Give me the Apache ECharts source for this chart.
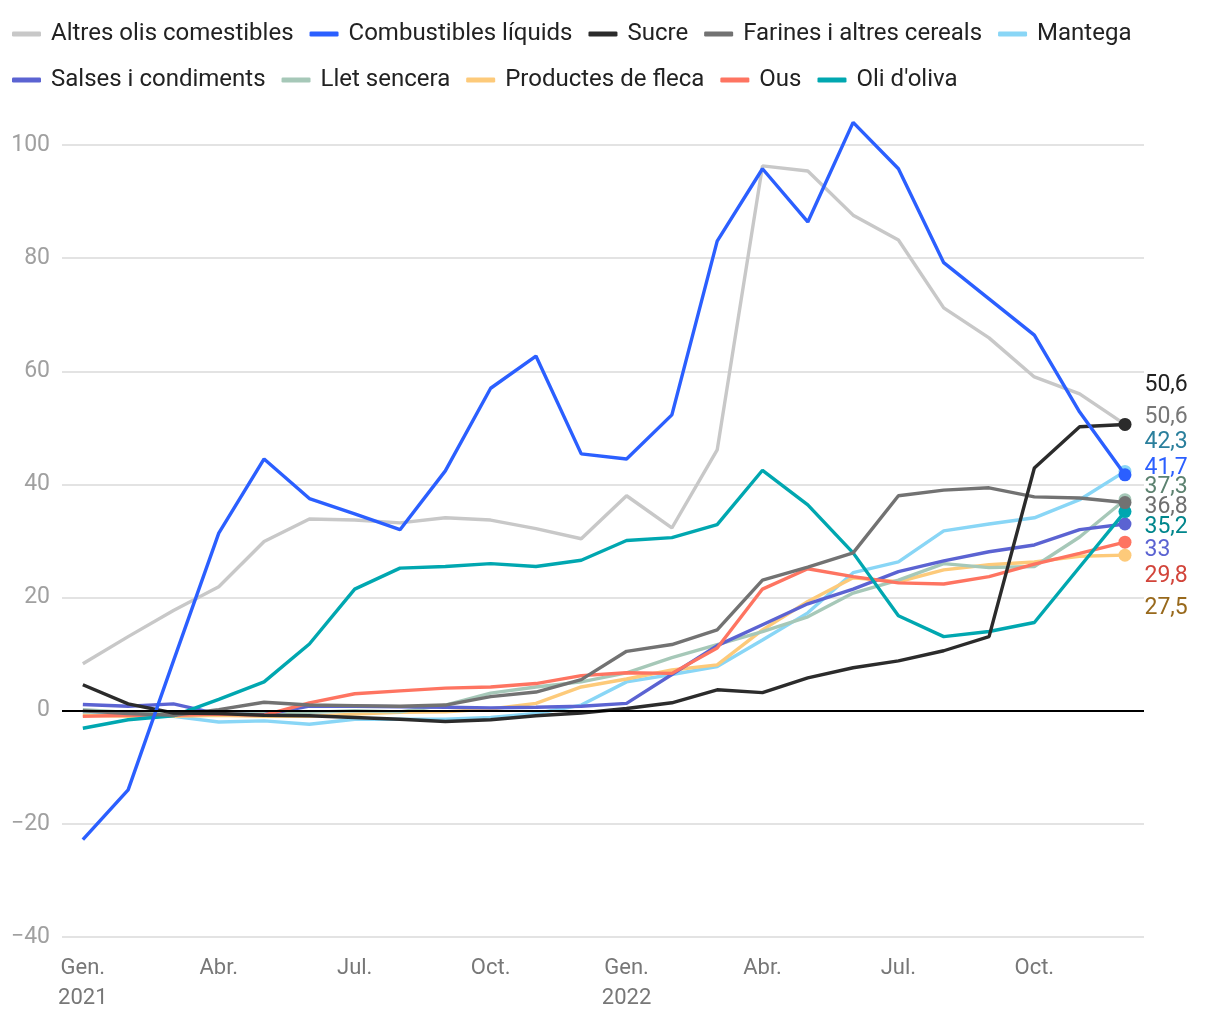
<!DOCTYPE html>
<html>
<head>
<meta charset="utf-8">
<script src="https://cdn.jsdelivr.net/npm/echarts@6/dist/echarts.min.js"></script>
<style>
  html, body { margin: 0; padding: 0; background: #fff; }
  #chart { width: 1220px; height: 1020px; }
</style>
</head>
<body>
<div id="chart"></div>
<script>
// mesos gen. 2021 - des. 2022
const months = ['Gen.\n2021', 'Febr.', 'Març', 'Abr.', 'Maig', 'Juny', 'Jul.', 'Ag.', 'Set.', 'Oct.', 'Nov.', 'Des.',
  'Gen.\n2022', 'Febr.', 'Març', 'Abr.', 'Maig', 'Juny', 'Jul.', 'Ag.', 'Set.', 'Oct.', 'Nov.', 'Des.'];
const tickMonths = [0, 3, 6, 9, 12, 15, 18, 21];
const yTicks = [-40, -20, 0, 20, 40, 60, 80, 100];

const altresOlis = [8.3, 13.1, 17.7, 21.9, 29.9, 33.9, 33.7, 33.2, 34.1, 33.7, 32.2, 30.4, 38.0, 32.3, 46.1, 96.3, 95.4, 87.6, 83.2, 71.2, 65.9, 59.0, 56.0, 50.6];
const combustibles = [-22.8, -14.0, 8.8, 31.4, 44.5, 37.5, 34.8, 32.0, 42.4, 57.0, 62.7, 45.4, 44.5, 52.3, 83.0, 95.8, 86.4, 104.0, 95.8, 79.2, 72.8, 66.4, 52.8, 41.7];
const sucre = [4.6, 1.2, -0.4, -0.5, -0.8, -0.9, -1.2, -1.5, -1.9, -1.6, -0.9, -0.4, 0.4, 1.4, 3.7, 3.2, 5.8, 7.6, 8.8, 10.6, 13.1, 42.9, 50.2, 50.6];
const farines = [0.0, -0.5, -0.8, 0.2, 1.5, 1.0, 0.9, 0.8, 1.0, 2.5, 3.3, 5.5, 10.5, 11.7, 14.3, 23.1, 25.4, 27.9, 38.0, 39.0, 39.4, 37.8, 37.6, 36.8];
const mantega = [-0.3, -0.7, -1.0, -2.0, -1.8, -2.4, -1.5, -1.5, -1.5, -1.2, -0.5, 1.0, 5.1, 6.4, 7.8, 12.5, 17.3, 24.4, 26.3, 31.8, 33.0, 34.1, 37.3, 42.3];
const salses = [1.1, 0.8, 1.2, -0.6, -0.7, 0.8, 0.8, 0.7, 0.6, 0.5, 0.6, 0.8, 1.3, 6.4, 11.5, 15.2, 18.9, 21.5, 24.6, 26.5, 28.1, 29.3, 32.0, 33.0];
const llet = [0.2, -0.3, -0.5, -0.5, -0.3, -0.3, 0.0, -0.2, 1.0, 3.1, 4.2, 5.1, 6.7, 9.4, 11.7, 14.0, 16.6, 20.8, 23.1, 26.0, 25.3, 25.5, 30.7, 37.3];
const fleca = [-0.8, -1.0, -1.0, -0.8, -1.0, -1.0, -0.6, -0.3, -0.2, 0.3, 1.3, 4.2, 5.6, 7.2, 8.1, 14.3, 19.3, 23.5, 22.8, 24.9, 25.8, 26.3, 27.3, 27.5];
const ous = [-1.0, -0.8, -0.8, -0.6, -0.8, 1.4, 3.0, 3.5, 4.0, 4.2, 4.8, 6.2, 6.7, 6.6, 11.1, 21.5, 25.1, 23.7, 22.6, 22.4, 23.7, 25.9, 27.8, 29.8];
const oliOliva = [-3.1, -1.6, -0.9, 2.0, 5.1, 11.8, 21.5, 25.2, 25.5, 26.0, 25.5, 26.6, 30.1, 30.6, 32.9, 42.5, 36.4, 27.9, 16.8, 13.1, 14.0, 15.6, 25.4, 35.2];

const seriesNames = ['Altres olis comestibles', 'Combustibles líquids', 'Sucre', 'Farines i altres cereals', 'Mantega',
  'Salses i condiments', 'Llet sencera', 'Productes de fleca', 'Ous', "Oli d'oliva"];
const seriesValues = [altresOlis, combustibles, sucre, farines, mantega, salses, llet, fleca, ous, oliOliva];

// estil: color de línia, color d'etiqueta final, desplaçament vertical de l'etiqueta
const lineColors = ['#c8c8c8', '#2b5fff', '#2b2b2b', '#727272', '#89d6f6', '#5b63d2', '#a6c8b8', '#fdca7a', '#fe7461', '#00a7b0'];
const labelColors = ['#777777', '#2b5fff', '#222222', '#6f6f6f', '#2a7f9c', '#5b63d2', '#5c8270', '#98691c', '#d2443a', '#00868c'];
const labelShift = [-7, -7, -39, 5, -29, 26, -12, 53, 34, 16];
const zOrder = [2, 12, 11, 10, 3, 6, 5, 4, 7, 8];

const chart = echarts.init(document.getElementById('chart'));
const FONT = 'Roboto, "Noto Sans", sans-serif';
const last = months.length - 1;

const series = seriesNames.map((name, s) => ({
  name: name,
  type: 'line',
  z: zOrder[s],
  clip: false,
  silent: true,
  showSymbol: true,
  showAllSymbol: true,
  symbol: 'circle',
  symbolSize: (val, p) => (p.dataIndex === last ? 13 : 0),
  lineStyle: { width: 3.4, color: lineColors[s] },
  itemStyle: { color: lineColors[s] },
  data: seriesValues[s].map((v, i) => {
    if (i !== last) return [i, v];
    return {
      value: [i, v],
      label: {
        show: true,
        position: 'right',
        distance: 13,
        offset: [0, labelShift[s]],
        color: labelColors[s],
        fontSize: 23,
        fontFamily: FONT,
        formatter: p => String(p.value[1]).replace('.', ',')
      }
    };
  }),
  markLine: s === 0 ? {
    silent: true,
    symbol: 'none',
    label: { show: false },
    lineStyle: { color: '#000', width: 2, type: 'solid' },
    data: [{ yAxis: 0 }]
  } : undefined
}));
series[0].markLine.z = 20;

const legendBase = {
  left: 12,
  padding: 0,
  itemWidth: 29,
  itemHeight: 5,
  itemGap: 16,
  icon: 'roundRect',
  selectedMode: false,
  textStyle: { fontSize: 24, color: '#222', fontFamily: FONT, padding: [0, 0, 0, 5] }
};

chart.setOption({
  animation: false,
  backgroundColor: '#fff',
  legend: [
    Object.assign({}, legendBase, { top: 22, data: seriesNames.slice(0, 5) }),
    Object.assign({}, legendBase, { top: 68, data: seriesNames.slice(5) })
  ],
  grid: { left: 62, right: 76, top: 145, bottom: 83, containLabel: false },
  xAxis: {
    type: 'value',
    min: -0.46,
    max: 23.42,
    axisLine: { show: false },
    axisTick: { show: false },
    splitLine: { show: false },
    axisLabel: {
      customValues: tickMonths,
      formatter: v => months[v],
      color: '#777',
      fontSize: 22,
      fontFamily: FONT,
      lineHeight: 30,
      margin: 16
    }
  },
  yAxis: {
    type: 'value',
    min: -40,
    max: 100,
    interval: 20,
    axisLine: { show: false },
    axisTick: { show: false },
    splitLine: { lineStyle: { color: '#e3e3e3', width: 2 } },
    axisLabel: {
      customValues: yTicks,
      formatter: v => (v < 0 ? '\u2212' + Math.abs(v) : String(v)),
      color: '#a0a0a0',
      fontSize: 23,
      fontFamily: FONT,
      margin: 12
    }
  },
  series: series
});
</script>
</body>
</html>
